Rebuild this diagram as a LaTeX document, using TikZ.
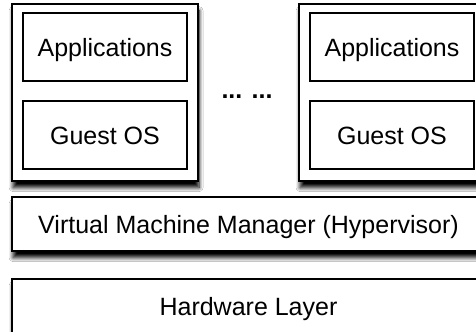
\documentclass[tikz,border=0pt]{standalone}
\usepackage{fontspec}
\setmainfont{Liberation Sans}
\usetikzlibrary{shadows.blur}
\begin{document}
\begin{tikzpicture}[x=0.75pt,y=-0.75pt,
  font=\fontsize{18.75}{22}\selectfont,
  outerbox/.style={draw=black, line width=1.5pt, fill=white, rectangle, inner sep=0pt,
    blur shadow={shadow xshift=0.8pt, shadow yshift=-5pt, shadow blur radius=3pt, shadow opacity=100, shadow blur steps=10}},
  innerbox/.style={draw=black, line width=1pt, fill=white, rectangle, inner sep=0pt,
    minimum width=123pt, minimum height=51pt, text depth=0pt, text height=13.5pt},
  vmbox/.style={outerbox, minimum width=139.5pt, minimum height=132.75pt},
  layerbox/.style={outerbox, minimum width=354.75pt, minimum height=40.5pt, text depth=0pt, text height=13.5pt}]
\useasboundingbox (0,0) rectangle (476,332);
\fill[white] (0,0) rectangle (476,332);
% layers
\node[layerbox] (hw) at (248.5,306) {Hardware Layer};
\node[layerbox] (hv) at (248.5,224) {Virtual Machine Manager (Hypervisor)};
% left VM
\node[vmbox] (vm1) at (105,92.5) {};
\node[innerbox] (app1) at (105,47) {Applications};
\node[innerbox] (os1) at (105,135) {Guest OS};
% right VM
\node[vmbox] (vm2) at (392,92.5) {};
\node[innerbox] (app2) at (392,47) {Applications};
\node[innerbox] (os2) at (392,135) {Guest OS};
% dots
\node[font=\fontsize{18.75}{22}\selectfont\bfseries] (dots) at (247,97) {... ...};
\end{tikzpicture}
\end{document}
